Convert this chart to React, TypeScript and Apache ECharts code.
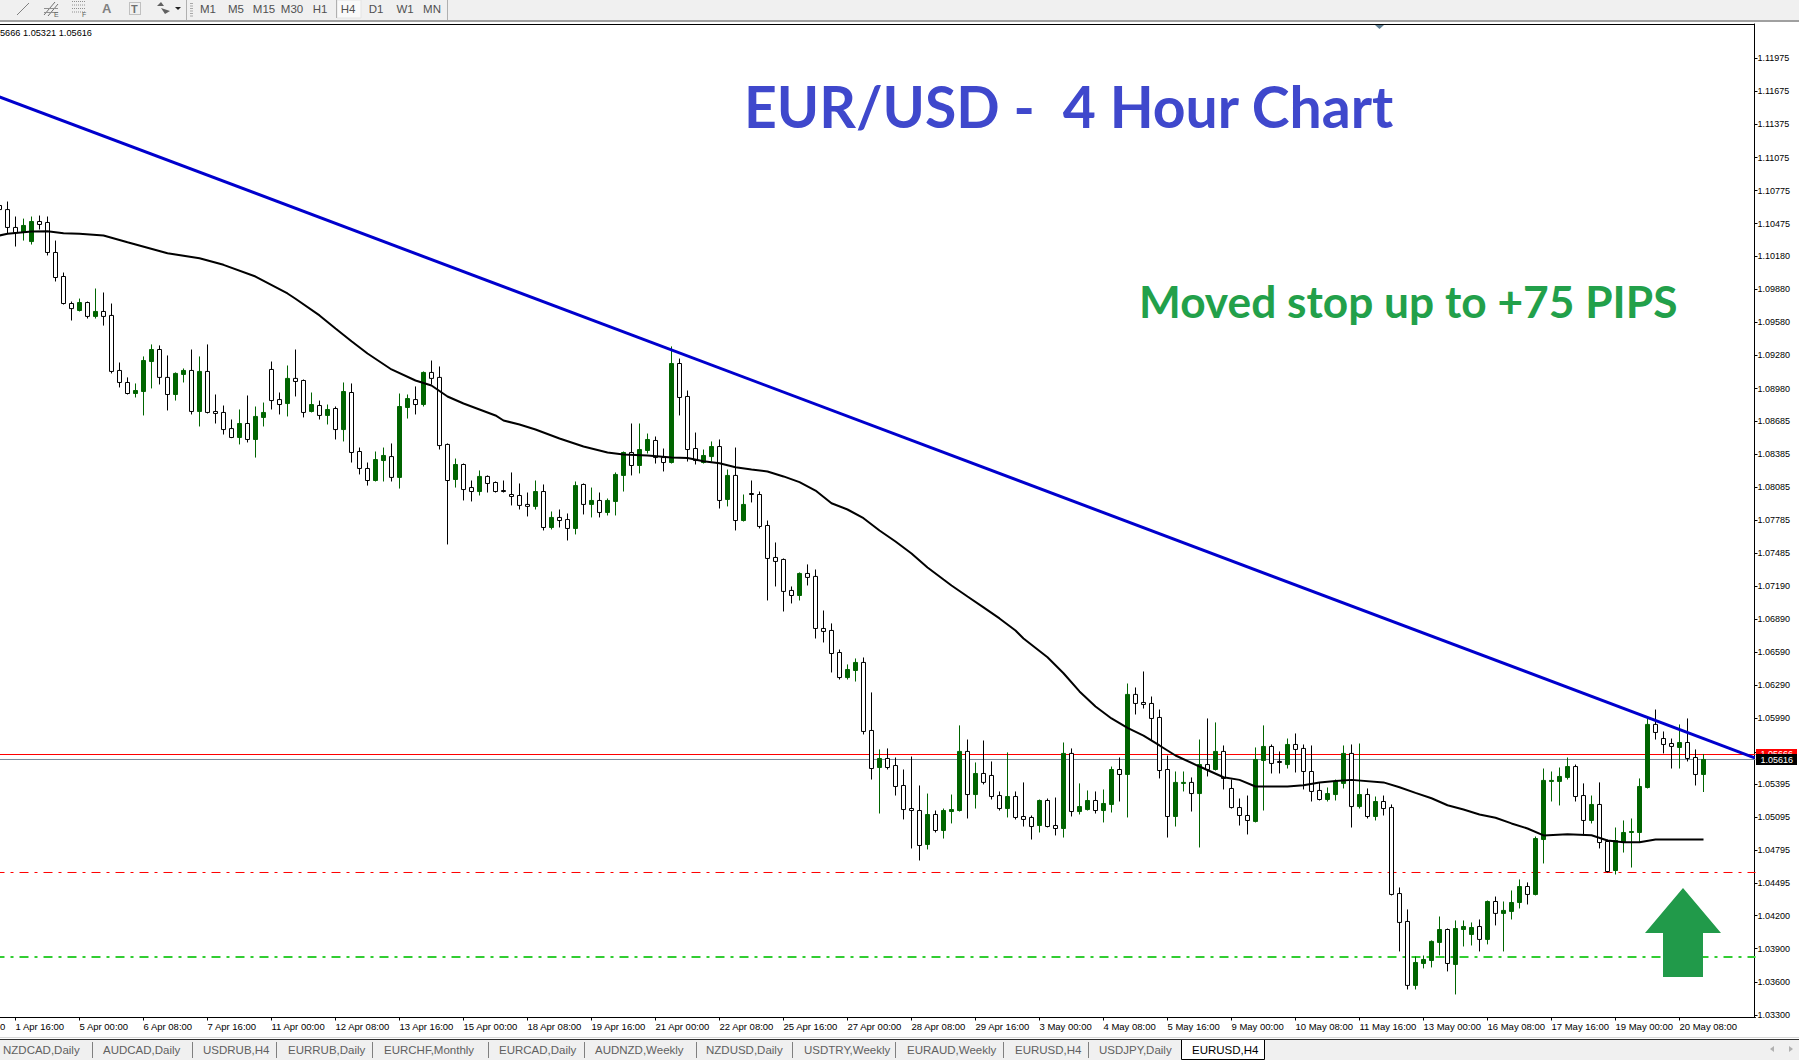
import React, { useEffect, useRef } from "react";
import * as echarts from "echarts";

// [open, close, low, high]
const candles: number[][] = [
[1.10640,1.10603,1.10576,1.10667],[1.10603,1.10441,1.10386,1.10676],[1.10441,1.10395,1.10268,1.10540],[1.10395,1.10459,1.10322,1.10521],
[1.10313,1.10495,1.10286,1.10540],[1.10495,1.10468,1.10422,1.10549],[1.10486,1.10214,1.10187,1.10540],[1.10214,1.09987,1.09951,1.10322],
[1.09996,1.09751,1.09742,1.10032],[1.09751,1.09705,1.09597,1.09769],[1.09688,1.09760,1.09679,1.09796],[1.09760,1.09634,1.09615,1.09769],
[1.09634,1.09679,1.09615,1.09887],[1.09679,1.09634,1.09551,1.09851],[1.09643,1.09135,1.09117,1.09751],[1.09144,1.09035,1.08990,1.09216],
[1.09035,1.08935,1.08926,1.09081],[1.08935,1.08962,1.08899,1.09026],[1.08953,1.09234,1.08736,1.09271],[1.09225,1.09334,1.08981,1.09380],
[1.09334,1.09081,1.09017,1.09371],[1.09081,1.08926,1.08781,1.09280],[1.08926,1.09117,1.08871,1.09126],[1.09108,1.09144,1.09035,1.09162],
[1.09144,1.08772,1.08745,1.09334],[1.08772,1.09135,1.08636,1.09271],[1.09135,1.08763,1.08754,1.09380],[1.08772,1.08754,1.08663,1.08926],
[1.08763,1.08608,1.08563,1.08826],[1.08617,1.08536,1.08530,1.08699],[1.08536,1.08663,1.08473,1.08790],[1.08663,1.08518,1.08491,1.08917],
[1.08518,1.08727,1.08354,1.08817],[1.08718,1.08763,1.08636,1.08853],[1.09153,1.08871,1.08790,1.09225],[1.08880,1.08835,1.08745,1.08944],
[1.08844,1.09072,1.08727,1.09189],[1.09072,1.09044,1.08908,1.09334],[1.09053,1.08763,1.08718,1.09062],[1.08772,1.08835,1.08763,1.08944],
[1.08826,1.08736,1.08699,1.08871],[1.08736,1.08790,1.08654,1.08835],[1.08799,1.08608,1.08518,1.08817],[1.08608,1.08953,1.08500,1.09035],
[1.08944,1.08400,1.08309,1.09026],[1.08409,1.08255,1.08201,1.08445],[1.08255,1.08146,1.08100,1.08309],[1.08146,1.08336,1.08137,1.08409],
[1.08327,1.08373,1.08137,1.08445],[1.08363,1.08174,1.08137,1.08482],[1.08174,1.08817,1.08073,1.08935],[1.08808,1.08889,1.08708,1.08926],
[1.08880,1.08835,1.08745,1.08999],[1.08835,1.09126,1.08817,1.09135],[1.09126,1.09072,1.09017,1.09234],[1.09081,1.08463,1.08427,1.09180],
[1.08473,1.08146,1.07566,1.08482],[1.08155,1.08291,1.08082,1.08345],[1.08291,1.08064,1.07965,1.08300],[1.08082,1.08046,1.07956,1.08146],
[1.08046,1.08183,1.08010,1.08237],[1.08183,1.08119,1.08037,1.08192],[1.08128,1.08046,1.08037,1.08137],[1.08055,1.08046,1.08037,1.08146],
[1.08019,1.08001,1.07920,1.08219],[1.08010,1.07920,1.07883,1.08119],[1.07929,1.07911,1.07820,1.08037],[1.07911,1.08046,1.07883,1.08146],
[1.08046,1.07720,1.07693,1.08110],[1.07720,1.07811,1.07702,1.07865],[1.07811,1.07783,1.07720,1.07883],[1.07792,1.07711,1.07602,1.07847],
[1.07711,1.08100,1.07657,1.08137],[1.08110,1.07929,1.07838,1.08119],[1.07929,1.07965,1.07811,1.08082],[1.07965,1.07856,1.07811,1.08037],
[1.07856,1.07965,1.07829,1.07983],[1.07956,1.08201,1.07829,1.08219],[1.08192,1.08400,1.08046,1.08409],[1.08400,1.08282,1.08192,1.08663],
[1.08282,1.08427,1.08210,1.08663],[1.08418,1.08518,1.08391,1.08572],[1.08509,1.08354,1.08300,1.08545],[1.08354,1.08309,1.08228,1.08436],
[1.08309,1.09207,1.08300,1.09362],[1.09207,1.08899,1.08736,1.09252],[1.08908,1.08427,1.08318,1.08962],[1.08436,1.08327,1.08291,1.08581],
[1.08309,1.08373,1.08300,1.08427],[1.08363,1.08454,1.08318,1.08500],[1.08454,1.07965,1.07892,1.08518],[1.07974,1.08192,1.07911,1.08246],
[1.08192,1.07783,1.07693,1.08445],[1.07783,1.07929,1.07774,1.08019],[1.08028,1.08019,1.07947,1.08146],[1.08019,1.07729,1.07711,1.08046],
[1.07738,1.07439,1.07058,1.07783],[1.07448,1.07412,1.07185,1.07584],[1.07430,1.07140,1.06958,1.07439],[1.07149,1.07103,1.07031,1.07185],
[1.07103,1.07303,1.07058,1.07312],[1.07303,1.07267,1.07194,1.07385],[1.07276,1.06804,1.06713,1.07339],[1.06804,1.06777,1.06677,1.06967],
[1.06786,1.06577,1.06405,1.06850],[1.06586,1.06359,1.06341,1.06613],[1.06359,1.06432,1.06341,1.06478],[1.06423,1.06496,1.06323,1.06532],
[1.06496,1.05870,1.05843,1.06541],[1.05879,1.05534,1.05434,1.06224],[1.05543,1.05625,1.05126,1.05707],[1.05625,1.05543,1.05525,1.05716],
[1.05561,1.05371,1.05289,1.05634],[1.05380,1.05162,1.05072,1.05525],[1.05171,1.05153,1.04809,1.05643],[1.05153,1.04836,1.04700,1.05380],
[1.04845,1.05117,1.04800,1.05307],[1.05117,1.04972,1.04954,1.05153],[1.04972,1.05153,1.04899,1.05171],[1.05144,1.05162,1.05036,1.05298],
[1.05153,1.05689,1.05144,1.05925],[1.05689,1.05298,1.05081,1.05797],[1.05298,1.05489,1.05171,1.05589],[1.05489,1.05408,1.05390,1.05788],
[1.05471,1.05280,1.05253,1.05598],[1.05289,1.05171,1.05153,1.05326],[1.05171,1.05280,1.05090,1.05680],[1.05280,1.05090,1.05072,1.05326],
[1.05099,1.05072,1.05008,1.05408],[1.05090,1.05008,1.04890,1.05108],[1.05017,1.05244,1.04954,1.05253],[1.05244,1.05008,1.05000,1.05262],
[1.05017,1.04990,1.04927,1.05271],[1.04990,1.05671,1.04908,1.05770],[1.05671,1.05144,1.05099,1.05716],[1.05144,1.05189,1.05117,1.05399],
[1.05162,1.05244,1.05153,1.05335],[1.05244,1.05153,1.05126,1.05326],[1.05153,1.05217,1.05045,1.05344],[1.05208,1.05525,1.05135,1.05552],
[1.05525,1.05480,1.05235,1.05634],[1.05480,1.06206,1.05090,1.06305],[1.06206,1.06124,1.06024,1.06269],[1.06133,1.06115,1.06078,1.06414],
[1.06124,1.05988,1.05788,1.06187],[1.05997,1.05516,1.05444,1.06069],[1.05525,1.05099,1.04908,1.05652],[1.05099,1.05408,1.05008,1.05507],
[1.05399,1.05408,1.05326,1.05507],[1.05408,1.05307,1.05144,1.05453],[1.05307,1.05570,1.04818,1.05797],[1.05570,1.05525,1.05462,1.05988],
[1.05525,1.05689,1.05516,1.05952],[1.05689,1.05444,1.05344,1.05743],[1.05353,1.05180,1.05171,1.05434],[1.05180,1.05108,1.05017,1.05262],
[1.05108,1.05063,1.04936,1.05289],[1.05054,1.05616,1.05045,1.05725],[1.05607,1.05734,1.05153,1.05925],[1.05734,1.05580,1.05489,1.05752],
[1.05598,1.05589,1.05489,1.05689],[1.05570,1.05752,1.05534,1.05806],[1.05752,1.05707,1.05498,1.05852],[1.05716,1.05507,1.05344,1.05752],
[1.05507,1.05326,1.05235,1.05743],[1.05335,1.05253,1.05244,1.05408],[1.05253,1.05307,1.05235,1.05362],[1.05298,1.05417,1.05244,1.05434],
[1.05399,1.05671,1.05353,1.05743],[1.05671,1.05189,1.04999,1.05752],[1.05189,1.05298,1.05171,1.05761],[1.05298,1.05099,1.05081,1.05353],
[1.05099,1.05235,1.05063,1.05280],[1.05235,1.05171,1.05108,1.05289],[1.05180,1.04392,1.04383,1.05208],[1.04400,1.04138,1.03875,1.04455],
[1.04147,1.03567,1.03530,1.04256],[1.03567,1.03775,1.03530,1.03829],[1.03766,1.03802,1.03721,1.03838],[1.03793,1.03966,1.03730,1.03975],
[1.03957,1.04074,1.03838,1.04192],[1.04074,1.03766,1.03694,1.04083],[1.03757,1.04083,1.03485,1.04156],[1.04074,1.04101,1.03920,1.04156],
[1.04029,1.04092,1.03929,1.04138],[1.04101,1.03984,1.03875,1.04165],[1.03984,1.04328,1.03939,1.04337],[1.04328,1.04220,1.04111,1.04373],
[1.04220,1.04247,1.03875,1.04328],[1.04238,1.04319,1.04165,1.04428],[1.04319,1.04464,1.04265,1.04528],[1.04464,1.04392,1.04301,1.04501],
[1.04392,1.04899,1.04383,1.04917],[1.04890,1.05426,1.04673,1.05534],[1.05417,1.05426,1.05235,1.05507],[1.05417,1.05462,1.05199,1.05543],
[1.05453,1.05552,1.05434,1.05634],[1.05552,1.05280,1.05235,1.05570],[1.05289,1.05063,1.04927,1.05399],[1.05063,1.05208,1.05036,1.05289],
[1.05208,1.04863,1.04809,1.05408],[1.04872,1.04600,1.04591,1.04890],[1.04609,1.04881,1.04573,1.04999],[1.04863,1.04954,1.04772,1.05063],
[1.04954,1.04963,1.04636,1.05081],[1.04954,1.05371,1.04863,1.05444],[1.05362,1.05934,1.05353,1.05997],[1.05934,1.05861,1.05797,1.06069],
[1.05806,1.05752,1.05671,1.05870],[1.05761,1.05734,1.05534,1.05806],[1.05725,1.05770,1.05534,1.05934],[1.05770,1.05625,1.05598,1.05988],
[1.05634,1.05480,1.05380,1.05707],[1.05480,1.05616,1.05321,1.05666],
];

const maBars = [0,1,4,6,8,10,13,16,21,25,28,32,36,37,40,42,44,46,49,52,54,56,58,60,62,63,65,67,70,73,76,78,81,84,86,88,90,92,94,96,98,100,102,104,106,108,110,112,114,116,118,119,121,123,125,127,128,131,133,135,137,139,141,143,145,147,150,153,155,157,161,163,165,167,169,173,175,177,179,181,183,185,187,189,191,193,196,199,201,203,205,207,213];
const maValues = [1.10368,1.10383,1.10404,1.10407,1.10389,1.10383,1.10368,1.10307,1.10207,1.10162,1.10102,1.09996,1.09842,1.09794,1.09643,1.09524,1.09409,1.09298,1.09153,1.09053,1.09008,1.08908,1.08844,1.08790,1.08736,1.08690,1.08654,1.08608,1.08527,1.08454,1.08400,1.08382,1.08373,1.08354,1.08351,1.08320,1.08302,1.08266,1.08246,1.08228,1.08183,1.08131,1.08055,1.07940,1.07883,1.07804,1.07693,1.07593,1.07484,1.07357,1.07248,1.07194,1.07094,1.06995,1.06895,1.06786,1.06713,1.06543,1.06398,1.06233,1.06097,1.05988,1.05903,1.05833,1.05743,1.05652,1.05552,1.05455,1.05431,1.05371,1.05371,1.05382,1.05408,1.05420,1.05431,1.05408,1.05364,1.05313,1.05264,1.05201,1.05162,1.05117,1.05087,1.05036,1.04990,1.04927,1.04938,1.04929,1.04881,1.04866,1.04866,1.04890,1.04890];

const trendBars = [0, 219.4];
const trendValues = [1.11625, 1.05631];

const askPrice = 1.05661;
const bidPrice = 1.05616;
const stopPrice = 1.04591;
const targetPrice = 1.03825;

const priceTicks = [1.11975,1.11675,1.11375,1.11075,1.10775,1.10475,1.1018,1.0988,1.0958,1.0928,1.0898,1.08685,1.08385,1.08085,1.07785,1.07485,1.0719,1.0689,1.0659,1.0629,1.0599,1.05685,1.05395,1.05095,1.04795,1.04495,1.042,1.039,1.036,1.033];

const timeLabels = ["1 Apr 16:00","5 Apr 00:00","6 Apr 08:00","7 Apr 16:00","11 Apr 00:00","12 Apr 08:00","13 Apr 16:00","15 Apr 00:00","18 Apr 08:00","19 Apr 16:00","21 Apr 00:00","22 Apr 08:00","25 Apr 16:00","27 Apr 00:00","28 Apr 08:00","29 Apr 16:00","3 May 00:00","4 May 08:00","5 May 16:00","9 May 00:00","10 May 08:00","11 May 16:00","13 May 00:00","16 May 08:00","17 May 16:00","19 May 00:00","20 May 08:00"];
const firstLabelBar = 2;
const labelEvery = 8;
const barSlots = 220;

const toolbarButtons = ["M1","M5","M15","M30","H1","H4","D1","W1","MN"];
const tabs = ["NZDCAD,Daily","AUDCAD,Daily","USDRUB,H4","EURRUB,Daily","EURCHF,Monthly","EURCAD,Daily","AUDNZD,Weekly","NZDUSD,Daily","USDTRY,Weekly","EURAUD,Weekly","EURUSD,H4","USDJPY,Daily","EURUSD,H4"];

const SANS = "'Liberation Sans',sans-serif";

const tabTextX = [3,103,203,288,384,499,595,706,804,907,1015,1099,1192];
const tabSepX = [92,192,276,372,488,584,696,792,895,1003,1088];
const buttonCenterX = [208,236,264,292,320,348,376,405,432];

function hline(x1: number, x2: number, y: number, stroke: string, lineWidth = 1, z = 50) {
  return { type: "line", z, silent: true, shape: { x1, y1: y, x2, y2: y }, style: { stroke, lineWidth } };
}
function vline(x: number, y1: number, y2: number, stroke: string, lineWidth = 1, z = 50) {
  return { type: "line", z, silent: true, shape: { x1: x, y1, x2: x, y2 }, style: { stroke, lineWidth } };
}
function text(t: string, x: number, y: number, font: string, fill: string, extra: any = {}, z = 60, tf: any = {}) {
  return {
    type: "text", z, silent: true, x, y, ...tf,
    style: { text: t, fill, font, textVerticalAlign: "middle", verticalAlign: "middle", ...extra },
  };
}

function buildGraphics() {
  const g: any[] = [];
  // toolbar
  g.push({ type: "rect", z: 40, silent: true, shape: { x: 0, y: 0, width: 1799, height: 20 }, style: { fill: "#f0f0f0" } });
  g.push({ type: "rect", z: 41, silent: true, shape: { x: 0, y: 20, width: 1799, height: 2 }, style: { fill: "#a0a0a0" } });
  g.push({ type: "rect", z: 41, silent: true, shape: { x: 337, y: 0, width: 24, height: 18 }, style: { fill: "#fafafa", stroke: "#e4e4e4", lineWidth: 1 } });
  g.push(vline(186.5, 0, 20, "#b0b0b0"));
  g.push(vline(447.5, 0, 20, "#b0b0b0"));
  g.push(vline(336.5, 0, 18, "#b0b0b0"));
  for (let i = 0; i < 6; i++) g.push(hline(190, 193, 3.5 + i * 2.5, "#a8a8a8"));
  // toolbar tools
  g.push({ type: "line", z: 50, silent: true, shape: { x1: 17, y1: 15, x2: 29, y2: 3 }, style: { stroke: "#808080", lineWidth: 1 } });
  g.push({ type: "line", z: 50, silent: true, shape: { x1: 44, y1: 15, x2: 55, y2: 2 }, style: { stroke: "#707070", lineWidth: 1 } });
  g.push({ type: "line", z: 50, silent: true, shape: { x1: 48, y1: 16, x2: 58, y2: 4 }, style: { stroke: "#707070", lineWidth: 1 } });
  g.push(hline(44, 58, 8.5, "#909090"));
  g.push(hline(44, 58, 12.5, "#909090"));
  g.push(text("E", 54, 14.5, `7px ${SANS}`, "#606060"));
  for (let i = 0; i < 4; i++) {
    g.push({ type: "line", z: 50, silent: true, shape: { x1: 72, y1: 1.5 + i * 3.5, x2: 85, y2: 1.5 + i * 3.5 }, style: { stroke: "#909090", lineWidth: 1, lineDash: [1, 1] } });
  }
  g.push(text("F", 82, 14.5, `7px ${SANS}`, "#606060"));
  g.push(text("A", 102, 8.5, `bold 13px ${SANS}`, "#808080"));
  g.push({ type: "rect", z: 50, silent: true, shape: { x: 129.5, y: 2.5, width: 11, height: 12 }, style: { fill: "none", stroke: "#909090", lineWidth: 1, lineDash: [1, 1] } });
  g.push(text("T", 131, 9, `bold 11px ${SANS}`, "#707070"));
  g.push({ type: "polygon", z: 50, silent: true, shape: { points: [[157, 6], [161, 2], [164, 6]] }, style: { fill: "#606060" } });
  g.push({ type: "polygon", z: 50, silent: true, shape: { points: [[161, 8], [170, 11], [165, 14]] }, style: { fill: "#606060" } });
  g.push({ type: "polygon", z: 50, silent: true, shape: { points: [[175, 7], [181, 7], [178, 10]] }, style: { fill: "#202020" } });
  toolbarButtons.forEach((b, i) => {
    g.push(text(b, buttonCenterX[i], 8.5, `11.5px ${SANS}`, "#505050", { align: "center", textAlign: "center" }));
  });
  // chart frame and info
  g.push(hline(0, 1755, 24.5, "#000000"));
  g.push({ type: "polygon", z: 50, silent: true, shape: { points: [[1375, 25], [1384, 25], [1379.5, 29]] }, style: { fill: "#5f7f93" } });
  g.push(text("5666 1.05321 1.05616", 0, 32.5, `9.2px ${SANS}`, "#000000"));
  g.push(text("0", 0, 1026.5, `9.5px ${SANS}`, "#000000"));
  // annotations
  g.push(text("EUR/USD -  4 Hour Chart", 744, 105, "bold 58px Lato", "#3f48cc", {}, 60, { scaleX: 0.985 }));
  g.push(text("Moved stop up to +75 PIPS", 1139, 300, "bold 44.5px Lato", "#22a04a", {}, 60, { scaleX: 0.995 }));
  g.push({
    type: "polygon", z: 55, silent: true,
    shape: { points: [[1683, 888], [1721, 933], [1703, 933], [1703, 977], [1663, 977], [1663, 933], [1645, 933]] },
    style: { fill: "#219a4a" },
  });
  // price boxes
  g.push({ type: "rect", z: 70, silent: true, shape: { x: 1756, y: 749, width: 41, height: 6 }, style: { fill: "#ff0000" } });
  g.push(text("1.05666", 1760.5, 753.5, `9px ${SANS}`, "#ffffff", {}, 71));
  g.push({ type: "rect", z: 72, silent: true, shape: { x: 1756, y: 754, width: 41, height: 11 }, style: { fill: "#000000" } });
  g.push(text("1.05616", 1760.5, 759.5, `9px ${SANS}`, "#ffffff", {}, 73));
  // tab bar
  g.push(hline(0, 1799, 1037.5, "#d8d8d8"));
  g.push(hline(0, 1799, 1039.5, "#303030"));
  g.push({ type: "rect", z: 40, silent: true, shape: { x: 0, y: 1040, width: 1799, height: 20 }, style: { fill: "#f0f0f0" } });
  g.push({ type: "rect", z: 45, silent: true, shape: { x: 1181.5, y: 1039.5, width: 83, height: 20 }, style: { fill: "#ffffff", stroke: "#000000", lineWidth: 1 } });
  g.push(hline(1182, 1264, 1039.5, "#ffffff", 1, 46));
  tabSepX.forEach((x) => g.push(vline(x + 0.5, 1042, 1058, "#808080")));
  tabs.forEach((t, i) => {
    const active = i === tabs.length - 1;
    g.push(text(t, tabTextX[i], 1050, `11.5px ${SANS}`, active ? "#000000" : "#606060"));
  });
  g.push({ type: "polygon", z: 50, silent: true, shape: { points: [[1774, 1046], [1774, 1052], [1770, 1049]] }, style: { fill: "#b0b0b0" } });
  g.push({ type: "polygon", z: 50, silent: true, shape: { points: [[1789, 1046], [1789, 1052], [1793, 1049]] }, style: { fill: "#b0b0b0" } });
  return g;
}

function flatLine(price: number, color: string, width: number, type: any, z: number) {
  return {
    type: "line", xAxisIndex: 1, yAxisIndex: 0, z, silent: true, symbol: "none",
    lineStyle: { color, width, type },
    data: [[-0.5, price], [219.5, price]],
  };
}

export default function App() {
  const ref = useRef<HTMLDivElement>(null);
  useEffect(() => {
    const chart = echarts.init(ref.current!, undefined, { renderer: "svg" });
    const showBar = (i: number) => i >= firstLabelBar && (i - firstLabelBar) % labelEvery === 0 && (i - firstLabelBar) / labelEvery < timeLabels.length;
    chart.setOption({
      animation: false,
      backgroundColor: "#ffffff",
      tooltip: { show: false },
      grid: { left: -4.5, top: 24, width: 1760, height: 993.5, containLabel: false, outerBoundsMode: "none" },
      xAxis: [
        {
          type: "category",
          data: Array.from({ length: barSlots }, (_, i) => String(i)),
          boundaryGap: true,
          axisLine: { show: true, lineStyle: { color: "#000000", width: 1 } },
          axisTick: { show: true, alignWithLabel: true, length: 3, interval: (i: number) => showBar(i), lineStyle: { color: "#000000" } },
          axisLabel: {
            show: true, interval: (i: number) => showBar(i), align: "left", margin: 4, hideOverlap: false,
            color: "#000000", fontFamily: SANS, fontSize: 9.5,
            formatter: (_v: string, i: number) => (showBar(i) ? timeLabels[(i - firstLabelBar) / labelEvery] : ""),
          },
          splitLine: { show: false },
        },
        { type: "value", min: -0.5, max: 219.5, show: false, splitLine: { show: false } },
      ],
      yAxis: [{
        type: "value", position: "right", offset: -1, min: 1.03276, max: 1.12286, scale: true,
        splitLine: { show: false },
        axisLine: { show: true, onZero: false, lineStyle: { color: "#000000", width: 1 } },
        axisTick: { show: true, length: 3, customValues: priceTicks, lineStyle: { color: "#000000" } },
        axisLabel: {
          show: true, customValues: priceTicks, margin: 3, showMinLabel: true, showMaxLabel: true,
          color: "#000000", fontFamily: SANS, fontSize: 9,
          formatter: (v: number) => v.toFixed(5),
        },
      }],
      series: [
        flatLine(askPrice, "#ff0000", 1, "solid", 1),
        flatLine(bidPrice, "#778899", 1, "solid", 1),
        flatLine(stopPrice, "#ff0000", 1, [9, 6, 3, 6], 1),
        flatLine(targetPrice, "#32cd32", 2, [9, 6, 3, 6], 1),
        {
          type: "candlestick", xAxisIndex: 0, yAxisIndex: 0, z: 2, silent: true,
          barWidth: 4,
          data: candles,
          itemStyle: { color: "#006400", color0: "#ffffff", borderColor: "#006400", borderColor0: "#000000", borderWidth: 1 },
        },
        {
          type: "line", xAxisIndex: 1, yAxisIndex: 0, z: 3, silent: true, symbol: "none",
          lineStyle: { color: "#000000", width: 2 },
          data: maBars.map((b, i) => [b, maValues[i]]),
        },
        {
          type: "line", xAxisIndex: 1, yAxisIndex: 0, z: 4, silent: true, symbol: "none",
          lineStyle: { color: "#0000cd", width: 3 },
          data: trendBars.map((b, i) => [b, trendValues[i]]),
        },
      ],
      graphic: { elements: buildGraphics() },
    });
    return () => chart.dispose();
  }, []);
  return <div ref={ref} style={{ position: "absolute", left: 0, top: 0, width: 1799, height: 1062 }} />;
}
